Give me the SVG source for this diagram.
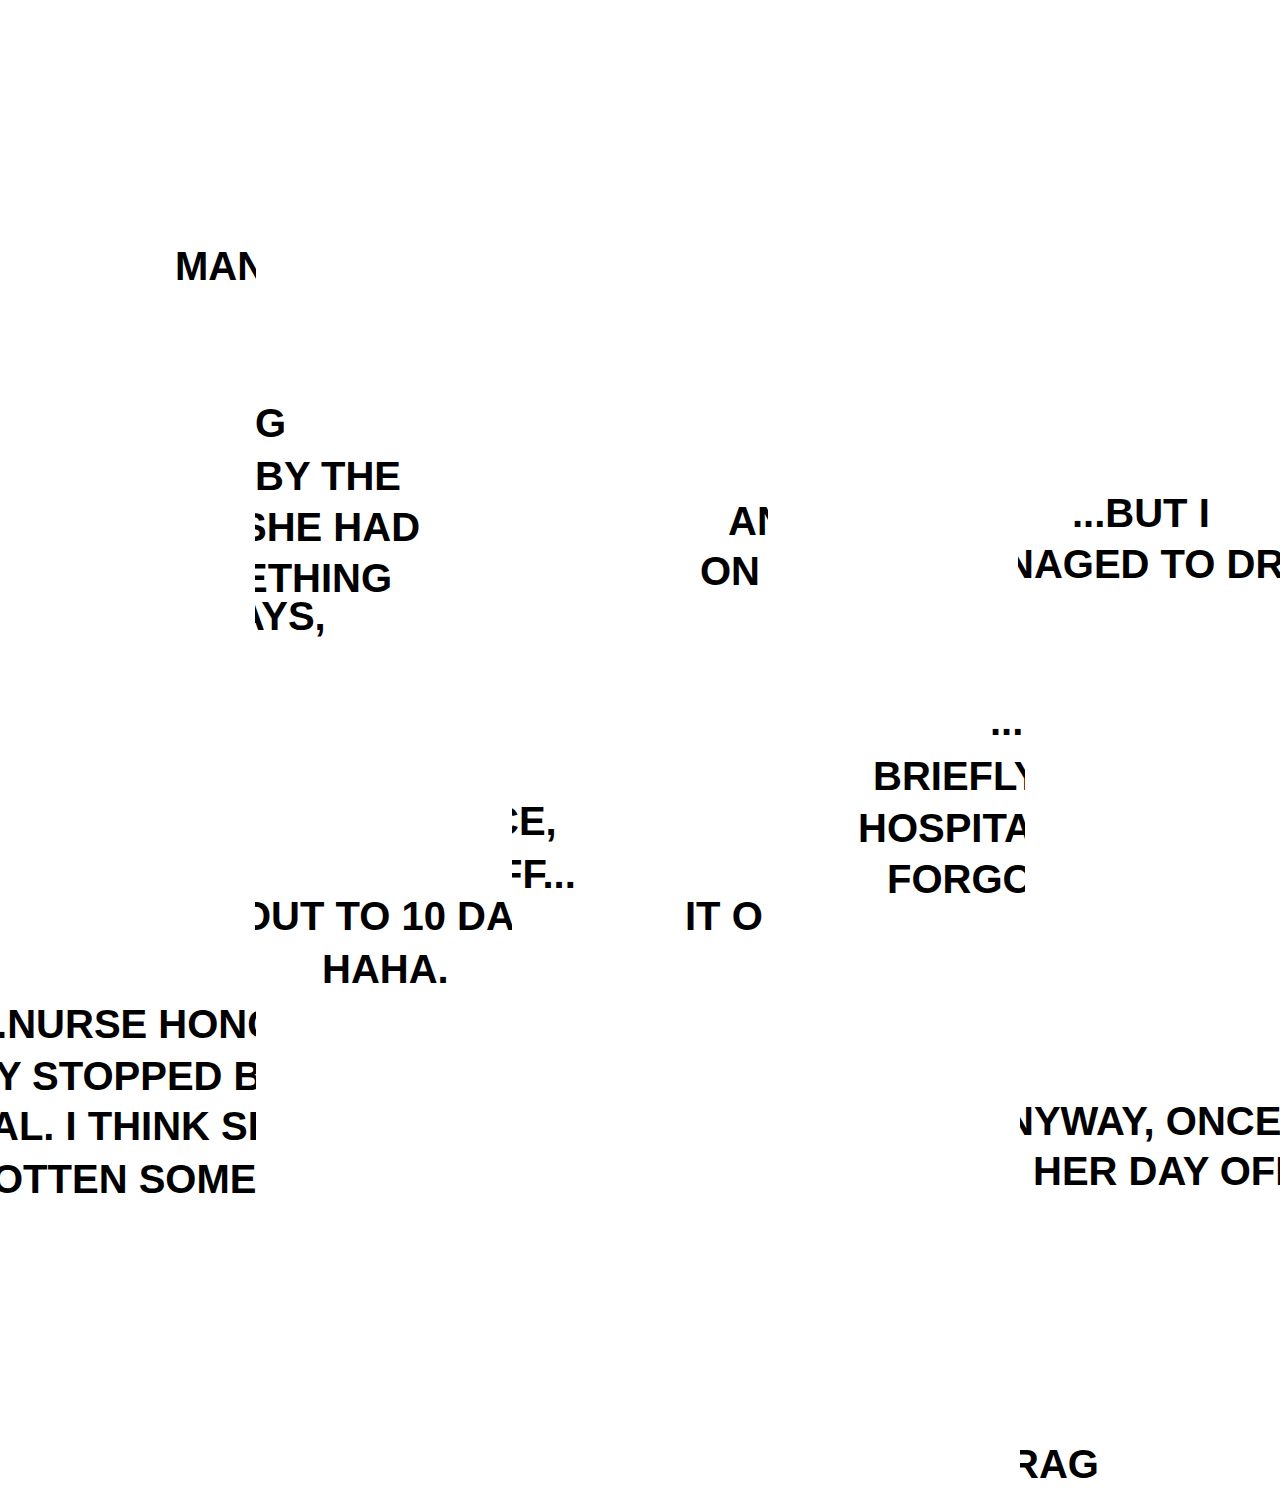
<svg xmlns="http://www.w3.org/2000/svg" width="1280" height="1500" viewBox="0 0 1280 1500">
<style>text{font-family:"Liberation Sans",Arial,sans-serif;font-weight:bold;font-size:40px;fill:#000}</style>
<defs>
<clipPath id="c1"><rect x="255" y="380" width="300" height="300"/></clipPath>
<clipPath id="c2"><rect x="0" y="0" width="768" height="1500"/></clipPath>
<clipPath id="c3"><rect x="1018" y="480" width="262" height="120"/></clipPath>
<clipPath id="c4"><rect x="800" y="700" width="225" height="220"/></clipPath>
<clipPath id="c5"><rect x="255" y="890" width="257" height="110"/></clipPath>
<clipPath id="c5b"><rect x="512" y="780" width="200" height="120"/></clipPath>
<clipPath id="c6"><rect x="0" y="1000" width="256" height="200"/></clipPath>
<clipPath id="c7"><rect x="1020" y="1090" width="260" height="110"/></clipPath>
<clipPath id="c8"><rect x="1020" y="1430" width="260" height="70"/></clipPath>
<clipPath id="c9"><rect x="170" y="240" width="86" height="60"/></clipPath>
</defs>
<rect width="1280" height="1500" fill="#fff"/>
<g clip-path="url(#c9)"><text x="175" y="280">MAN</text></g>
<g clip-path="url(#c1)">
<text x="255" y="437">G</text>
<text x="255" y="490">BY THE</text>
<text x="240" y="541">SHE HAD</text>
<text x="241" y="592">ETHING</text>
<text x="236" y="630">AYS,</text>
</g>
<g clip-path="url(#c2)">
<text x="728" y="535">AN</text>
<text x="700" y="585">ON</text>
<text x="685" y="930">IT O</text>
</g>
<g clip-path="url(#c3)">
<text x="1072" y="527">...BUT I</text>
<text x="1005" y="578">NAGED TO DR</text>
</g>
<g clip-path="url(#c4)">
<text x="990" y="735">...</text>
<text x="873" y="790">BRIEFLY</text>
<text x="858" y="842">HOSPITAL</text>
<text x="887" y="893">FORGOT</text>
</g>
<g clip-path="url(#c5)"><text x="240" y="930">OUT TO 10 DAYS</text></g>
<g clip-path="url(#c5b)">
<text x="490" y="835">CE,</text>
<text x="498" y="888">FF...</text>
</g>
<text x="322" y="983">HAHA.</text>
<g clip-path="url(#c6)">
<text x="-15" y="1038">..NURSE HONG</text>
<text x="-5" y="1090">Y STOPPED B</text>
<text x="-10" y="1140">AL. I THINK SH</text>
<text x="-8" y="1193">OTTEN SOME</text>
</g>
<g clip-path="url(#c7)">
<text x="1005" y="1135">NYWAY, ONCE</text>
<text x="1033" y="1185">HER DAY OFF</text>
</g>
<g clip-path="url(#c8)"><text x="1010" y="1478">RAG</text></g>
</svg>
